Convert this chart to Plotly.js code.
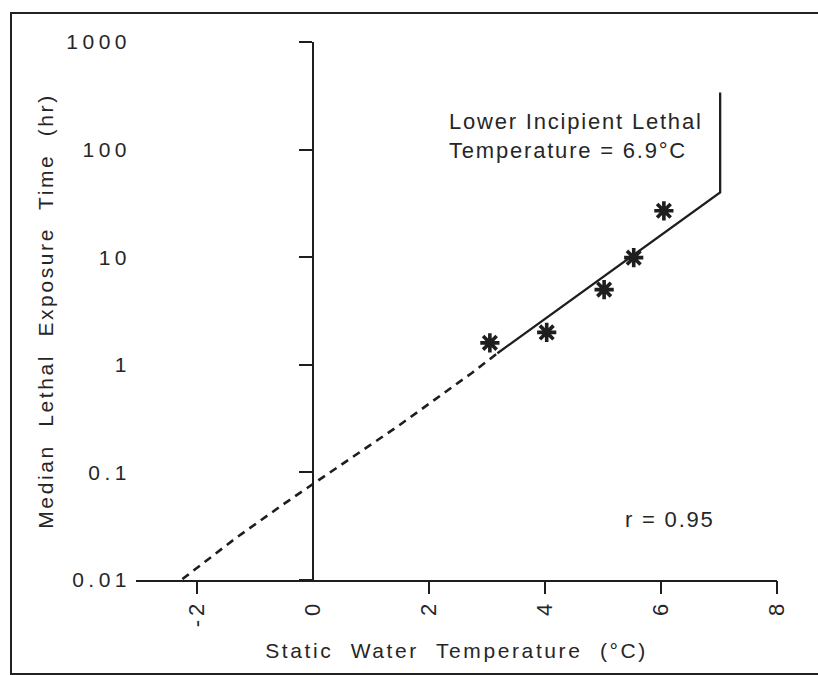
<!DOCTYPE html>
<html>
<head>
<meta charset="utf-8">
<script src="https://cdn.plot.ly/plotly-3.0.1.min.js"></script>
<style>
  html, body { margin: 0; padding: 0; background: #fff; }
  #wrap { position: relative; width: 818px; height: 675px; overflow: hidden; }
  #chart { width: 818px; height: 675px; }
  #frame { position: absolute; left: 10px; top: 12px; width: 840px; height: 659px;
           border-left: 2px solid #222; border-top: 2px solid #222; border-bottom: 2px solid #222;
           pointer-events: none; }
  .ytick text { letter-spacing: 4.5px; }
  .xtick text { letter-spacing: 4px; }
  .xtitle, .ytitle { letter-spacing: 2.6px; word-spacing: 9px; }
  .annotation-text { letter-spacing: 1.8px; }
</style>
</head>
<body>
<div id="wrap">
  <div id="chart"></div>
  <div id="frame"></div>
</div>
<script>
// Observed median lethal exposure times
const obsTemp = [3.05, 4.03, 5.02, 5.53, 6.05];
const obsTime = [1.6, 2.0, 5.0, 9.9, 27];

// Fitted regression line (solid) ending at the lower incipient lethal temperature
const fitTemp = [3.18, 7.02, 7.02];
const fitTime = [1.28, 40, 340];

// Extrapolated part of the regression (dashed)
const extrapTemp = [-2.25, -1.33, -0.5, 0, 1.47, 2.74, 3.18];
const extrapTime = [0.0102, 0.0245, 0.051, 0.078, 0.27, 0.84, 1.28];

// Axis ticks
const yTickVals = [0.01, 0.1, 1, 10, 100, 1000];
const yTickText = ['0.01', '0.1', '1', '10', '100', '1000'];
const xLabelVals = [-2, 0, 2, 4, 6, 8];
const xLabelText = ['-2', '0', '2', '4', '6', '8'];
const xMarkVals = [-2, 2, 4, 6, 8];

const ink = '#1e1e1e';
const textInk = '#262626';
const fontFam = 'Liberation Sans, Arial, Helvetica, sans-serif';

const traces = [
  {
    x: extrapTemp, y: extrapTime, type: 'scatter', mode: 'lines',
    line: { color: ink, width: 2.6, dash: '8px,6px' },
    showlegend: false, hoverinfo: 'skip'
  },
  {
    x: fitTemp, y: fitTime, type: 'scatter', mode: 'lines',
    line: { color: ink, width: 2.3 },
    showlegend: false, hoverinfo: 'skip'
  },
  {
    x: obsTemp, y: obsTime, type: 'scatter', mode: 'markers',
    marker: { symbol: 'asterisk-open', size: 16, color: ink, line: { color: ink, width: 3.6 } },
    showlegend: false
  },
  {
    x: [], y: [], xaxis: 'x2', yaxis: 'y2', type: 'scatter', mode: 'markers',
    showlegend: false, hoverinfo: 'skip'
  }
];

const layout = {
  width: 818, height: 675,
  margin: { l: 136, r: 41, t: 42, b: 95 },
  paper_bgcolor: '#fff', plot_bgcolor: 'rgba(0,0,0,0)',
  font: { family: fontFam, color: textInk, size: 21 },
  showlegend: false,
  xaxis: {
    range: [-3.05, 8], showgrid: false, zeroline: false,
    showline: true, linecolor: ink, linewidth: 2,
    tickmode: 'array', tickvals: xLabelVals, ticktext: xLabelText,
    ticks: 'outside', ticklen: 9, tickcolor: 'rgba(0,0,0,0)', tickangle: -90,
    tickfont: { size: 22, color: textInk, family: fontFam },
    title: { text: 'Static Water Temperature (°C)', standoff: 17,
             font: { size: 21, color: textInk, family: fontFam } }
  },
  yaxis: {
    type: 'log', range: [-2, 3], showgrid: false, zeroline: false,
    showline: false,
    tickmode: 'array', tickvals: yTickVals, ticktext: yTickText,
    ticks: '', ticklabelstandoff: 4,
    tickfont: { size: 21, color: textInk, family: fontFam },
    title: { text: 'Median Lethal Exposure Time (hr)', standoff: 6,
             font: { size: 21, color: textInk, family: fontFam } }
  },
  xaxis2: {
    overlaying: 'x', anchor: 'y2', range: [-3.05, 8],
    showgrid: false, zeroline: false, showline: false,
    tickmode: 'array', tickvals: xMarkVals, showticklabels: false,
    ticks: 'outside', ticklen: 13, tickwidth: 2, tickcolor: ink
  },
  yaxis2: {
    overlaying: 'y', anchor: 'free', position: 3.05 / 11.05, side: 'left',
    type: 'log', range: [-2, 3],
    showgrid: false, zeroline: false,
    showline: true, linecolor: ink, linewidth: 2,
    tickmode: 'array', tickvals: yTickVals, showticklabels: false,
    ticks: 'outside', ticklen: 13, tickwidth: 2, tickcolor: ink
  },
  annotations: [
    {
      x: 2.31, y: 2.128, xref: 'x', yref: 'y', xanchor: 'left', yanchor: 'middle',
      text: 'Lower Incipient Lethal<br>Temperature = 6.9°C', align: 'left', showarrow: false,
      font: { size: 22, color: textInk, family: fontFam }
    },
    {
      x: 6.15, y: -1.44, xref: 'x', yref: 'y', xanchor: 'center', yanchor: 'middle',
      text: 'r = 0.95', showarrow: false,
      font: { size: 22, color: textInk, family: fontFam }
    }
  ]
};

Plotly.newPlot('chart', traces, layout, { staticPlot: true, displayModeBar: false });
</script>
</body>
</html>
